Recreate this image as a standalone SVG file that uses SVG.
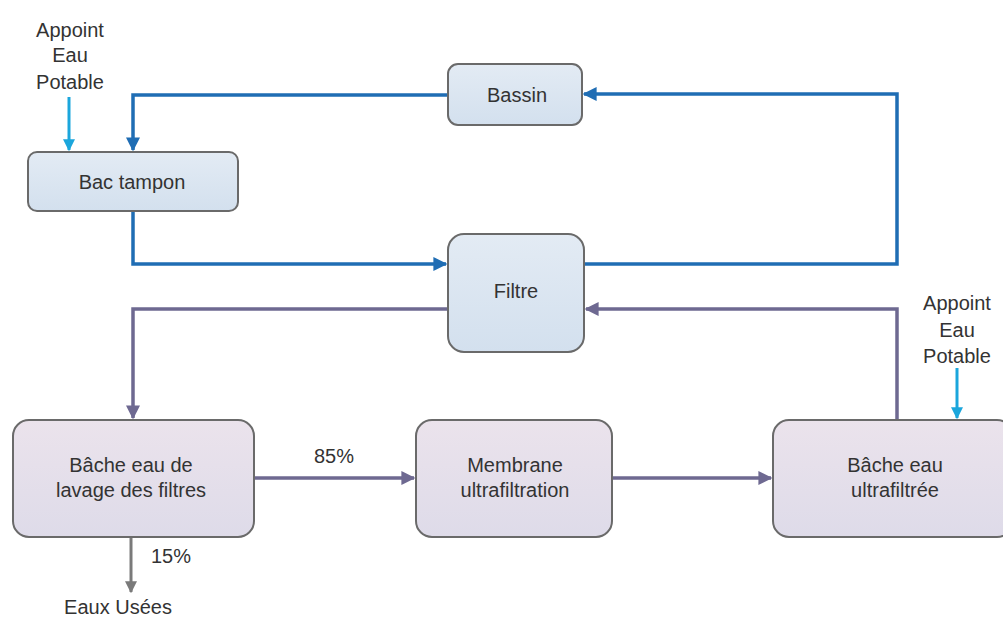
<svg xmlns="http://www.w3.org/2000/svg" width="1003" height="617" viewBox="0 0 1003 617">
  <style>
    .lbl { font-family: "Liberation Sans", Arial, sans-serif; font-size: 20px; fill: #333333; text-anchor: middle; }
    .box { stroke: #6a6a6a; stroke-width: 2; }
    .blue { fill: url(#gBlue); }
    .lilac { fill: url(#gLilac); }
    .flow-blue { fill: none; stroke: #1f6db4; stroke-width: 3.5; }
    .flow-lilac { fill: none; stroke: #6e6991; stroke-width: 3.5; }
    .flow-grey { fill: none; stroke: #7a7a7a; stroke-width: 3; }
    .flow-cyan { fill: none; stroke: #1ba6dc; stroke-width: 3; }
  </style>
  <defs>
    <linearGradient id="gBlue" x1="0" y1="0" x2="0" y2="1">
      <stop offset="0" stop-color="#e3ebf4"/>
      <stop offset="1" stop-color="#d3e0ee"/>
    </linearGradient>
    <linearGradient id="gLilac" x1="0" y1="0" x2="0" y2="1">
      <stop offset="0" stop-color="#ebe3ec"/>
      <stop offset="1" stop-color="#dedbe9"/>
    </linearGradient>
    <marker id="aBlue" viewBox="0 0 10 10" refX="9" refY="5" markerWidth="4" markerHeight="4" orient="auto" markerUnits="strokeWidth">
      <path d="M0,0 L10,5 L0,10 z" fill="#1f6db4"/>
    </marker>
    <marker id="aLilac" viewBox="0 0 10 10" refX="9" refY="5" markerWidth="4" markerHeight="4" orient="auto" markerUnits="strokeWidth">
      <path d="M0,0 L10,5 L0,10 z" fill="#6e6991"/>
    </marker>
    <marker id="aGrey" viewBox="0 0 10 10" refX="9" refY="5" markerWidth="4" markerHeight="4" orient="auto" markerUnits="strokeWidth">
      <path d="M0,0 L10,5 L0,10 z" fill="#7a7a7a"/>
    </marker>
    <marker id="aCyan" viewBox="0 0 10 10" refX="9" refY="5" markerWidth="4" markerHeight="4" orient="auto" markerUnits="strokeWidth">
      <path d="M0,0 L10,5 L0,10 z" fill="#1ba6dc"/>
    </marker>
  </defs>

  <rect width="1003" height="617" fill="#ffffff"/>

  <!-- connectors -->
  <g id="connectors">
    <path class="flow-blue" d="M448,95 H133 V150" marker-end="url(#aBlue)"/>
    <path class="flow-blue" d="M133,211 V264 H446" marker-end="url(#aBlue)"/>
    <path class="flow-blue" d="M584,264 H897 V94 H584" marker-end="url(#aBlue)"/>
    <path class="flow-lilac" d="M897,420 V309 H586" marker-end="url(#aLilac)"/>
    <path class="flow-lilac" d="M448,309 H133 V418" marker-end="url(#aLilac)"/>
    <path class="flow-lilac" d="M254,478 H414" marker-end="url(#aLilac)"/>
    <path class="flow-lilac" d="M612,478 H771" marker-end="url(#aLilac)"/>
    <path class="flow-grey" d="M131,537 V592" marker-end="url(#aGrey)"/>
    <path class="flow-cyan" d="M69,97 V150" marker-end="url(#aCyan)"/>
    <path class="flow-cyan" d="M957,368 V418" marker-end="url(#aCyan)"/>
    <text class="lbl" x="334" y="463">85%</text>
    <text class="lbl" x="171" y="563">15%</text>
  </g>

  <!-- nodes -->
  <g id="appoint-left">
    <text class="lbl" x="70" y="37">Appoint</text>
    <text class="lbl" x="70" y="62">Eau</text>
    <text class="lbl" x="70" y="89">Potable</text>
  </g>
  <g id="bac-tampon">
    <rect class="box blue" x="28" y="152" width="210" height="59" rx="9"/>
    <text class="lbl" x="132" y="189">Bac tampon</text>
  </g>
  <g id="bassin">
    <rect class="box blue" x="448" y="64" width="134" height="61" rx="10"/>
    <text class="lbl" x="517" y="102">Bassin</text>
  </g>
  <g id="filtre">
    <rect class="box blue" x="448" y="234" width="136" height="118" rx="16"/>
    <text class="lbl" x="516" y="298">Filtre</text>
  </g>
  <g id="bache-lavage">
    <rect class="box lilac" x="13" y="420" width="241" height="117" rx="16"/>
    <text class="lbl" x="131" y="472">Bâche eau de</text>
    <text class="lbl" x="131" y="497">lavage des filtres</text>
  </g>
  <g id="membrane">
    <rect class="box lilac" x="416" y="420" width="196" height="117" rx="16"/>
    <text class="lbl" x="515" y="472">Membrane</text>
    <text class="lbl" x="515" y="497">ultrafiltration</text>
  </g>
  <g id="bache-ultrafiltree">
    <rect class="box lilac" x="773" y="420" width="240" height="117" rx="16"/>
    <text class="lbl" x="895" y="472">Bâche eau</text>
    <text class="lbl" x="895" y="497">ultrafiltrée</text>
  </g>
  <g id="appoint-right">
    <text class="lbl" x="957" y="310">Appoint</text>
    <text class="lbl" x="957" y="337">Eau</text>
    <text class="lbl" x="957" y="363">Potable</text>
  </g>
  <g id="eaux-usees">
    <text class="lbl" x="118" y="614">Eaux Usées</text>
  </g>
</svg>
